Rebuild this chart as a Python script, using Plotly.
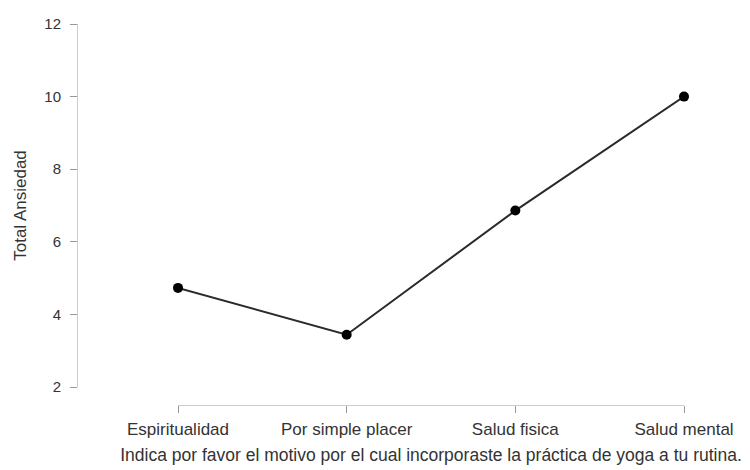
import plotly.graph_objects as go

categories = ["Espiritualidad", "Por simple placer", "Salud fisica", "Salud mental"]
values = [4.73, 3.44, 6.86, 10.0]
y_ticks = [2, 4, 6, 8, 10, 12]

W, H = 750, 470
OFF = 8  # browser body margin
# target screen positions
yax_x, y_top, y_bot = 77, 24, 387
xax_y, x_left, x_right = 405, 178, 684

L = yax_x - OFF
T = y_top - OFF
R = W - (x_right - OFF)
B = H - (xax_y - OFF)
pw, ph = W - L - R, H - T - B

fig = go.Figure(go.Scatter(
    x=list(range(len(categories))), y=values, mode="lines+markers",
    line=dict(color="#2a2a2a", width=2),
    marker=dict(color="black", size=10),
    cliponaxis=False, showlegend=False,
))

fig.update_layout(
    width=W, height=H,
    margin=dict(l=L, r=R, t=T, b=B, autoexpand=False),
    plot_bgcolor="white", paper_bgcolor="white",
    font=dict(family="Liberation Sans, Arial, sans-serif", color="#333333", size=14),
    xaxis=dict(
        domain=[(x_left - OFF - L) / pw, 1], range=[0, 3],
        anchor="free", position=0, automargin=False,
        tickmode="array", tickvals=list(range(len(categories))), ticktext=categories,
        showgrid=False, zeroline=False,
        showline=True, linecolor="#cccccc", linewidth=1,
        ticks="outside", ticklen=7, tickcolor="#999999",
        ticklabelstandoff=2,
        tickfont=dict(size=17, color="#333333"),
        title=dict(text="Indica por favor el motivo por el cual incorporaste la práctica de yoga a tu rutina.",
                   font=dict(size=17.5, color="#333333"), standoff=10),
    ),
    yaxis=dict(
        domain=[(xax_y - y_bot) / ph, 1], range=[2, 12],
        anchor="free", position=0, automargin=False,
        tickmode="array", tickvals=y_ticks,
        showgrid=False, zeroline=False,
        showline=True, linecolor="#cccccc", linewidth=1,
        ticks="outside", ticklen=7, tickcolor="#999999",
        ticklabelstandoff=6,
        tickfont=dict(size=15, color="#333333"),
        title=dict(text="Total Ansiedad", font=dict(size=17, color="#333333"), standoff=12),
    ),
)

fig.write_html("out.html")
